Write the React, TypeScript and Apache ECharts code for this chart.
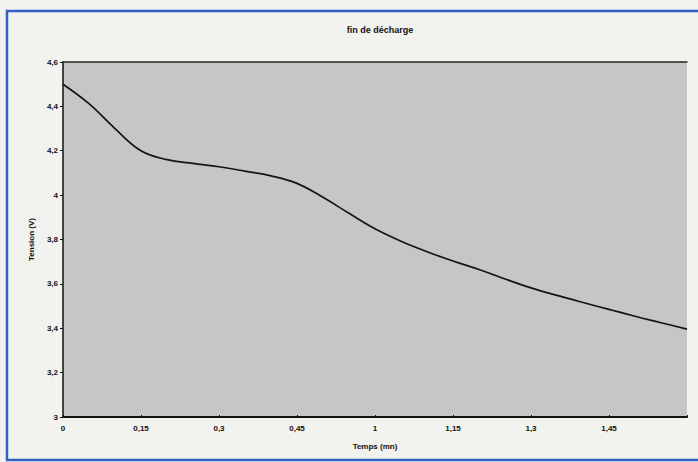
import React, { useEffect, useRef } from "react";
import * as echarts from "echarts";

const titleText = "fin de décharge";
const xName = "Temps (mn)";
const yName = "Tension (V)";
const xTickLabels = ["0", "0,15", "0,3", "0,45", "1", "1,15", "1,3", "1,45", ""];
const timeSeconds = [0, 5, 10, 15, 20, 25, 30, 35, 40, 45, 50, 55, 60, 65, 70, 75, 80, 85, 90, 95, 100, 105, 110, 115, 120];
const tension = [4.5, 4.412, 4.3, 4.2, 4.16, 4.143, 4.128, 4.108, 4.087, 4.053, 3.99, 3.918, 3.848, 3.792, 3.745, 3.703, 3.665, 3.622, 3.582, 3.548, 3.516, 3.485, 3.454, 3.425, 3.396];

const FONT = "'Liberation Sans Narrow', 'Arial Narrow', 'Liberation Sans', Arial, sans-serif";

export default function App() {
  const ref = useRef<HTMLDivElement>(null);
  useEffect(() => {
    if (!ref.current) return;
    const chart = echarts.init(ref.current, undefined, { renderer: "svg" });
    const data = timeSeconds.map((t, i) => [t, tension[i]]);
    chart.setOption({
      animation: false,
      backgroundColor: "#f2f2ef",
      title: {
        text: titleText,
        left: 375,
        top: 20,
        textAlign: "center",
        textStyle: { fontFamily: FONT, fontSize: 9, fontWeight: "bold", color: "#111" },
      },
      grid: {
        left: 63,
        top: 62,
        right: 11,
        bottom: 45,
        show: true,
        backgroundColor: "#c6c6c4",
        borderWidth: 0,
      },
      xAxis: [
        {
          type: "value",
          min: 0,
          max: 120,
          interval: 15,
          name: xName,
          nameLocation: "middle",
          nameGap: 25,
          nameTextStyle: { fontFamily: FONT, fontSize: 8, fontWeight: "bold", color: "#111" },
          axisLine: { show: true, lineStyle: { color: "#111", width: 2 } },
          axisTick: { show: true, inside: true, length: 2, lineStyle: { color: "#111" } },
          axisLabel: {
            margin: 7,
            fontFamily: FONT,
            fontSize: 8,
            fontWeight: "bold",
            color: "#111",
            formatter: (v: number) => xTickLabels[Math.round(v / 15)] ?? "",
          },
          splitLine: { show: false },
        },
        {
          type: "value",
          position: "top",
          min: 0,
          max: 120,
          axisLine: { show: true, lineStyle: { color: "#222", width: 1.5 } },
          axisTick: { show: false },
          axisLabel: { show: false },
          splitLine: { show: false },
        },
      ],
      yAxis: {
        type: "value",
        min: 3,
        max: 4.6,
        interval: 0.2,
        name: yName,
        nameLocation: "middle",
        nameGap: 28,
        nameTextStyle: { fontFamily: FONT, fontSize: 8, fontWeight: "bold", color: "#111" },
        axisLine: { show: true, lineStyle: { color: "#111", width: 1.5 } },
        axisTick: { show: true, length: 3, lineStyle: { color: "#111" } },
        axisLabel: {
          margin: 5,
          fontFamily: FONT,
          fontSize: 8,
          fontWeight: "bold",
          color: "#111",
          formatter: (v: number) => String(Math.round(v * 10) / 10).replace(".", ","),
        },
        splitLine: { show: false },
      },
      graphic: [
        {
          type: "rect",
          shape: { x: 7, y: 11, width: 720, height: 449 },
          style: { fill: "none", stroke: "#3162c2", lineWidth: 2.5 },
          silent: true,
        },
      ],
      series: [
        {
          type: "line",
          data,
          smooth: 0.4,
          showSymbol: false,
          lineStyle: { color: "#151515", width: 1.7 },
        },
      ],
    });
    return () => chart.dispose();
  }, []);
  return (
    <div
      ref={ref}
      style={{ position: "fixed", left: 0, top: 0, width: 698, height: 462 }}
    />
  );
}
